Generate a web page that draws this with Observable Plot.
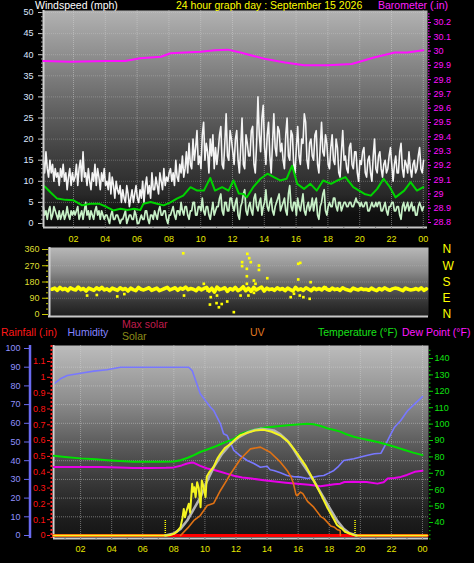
<!DOCTYPE html>
<html><head><meta charset="utf-8">
<script src="https://cdn.jsdelivr.net/npm/d3@7"></script>
<script src="https://cdn.jsdelivr.net/npm/@observablehq/plot@0.6"></script>
<style>
html,body{margin:0;padding:0;background:#000;}
#chart{position:relative;width:474px;height:563px;background:#000;overflow:hidden;font-family:"Liberation Sans",Arial,sans-serif;}
#chart svg{position:absolute;left:0;top:0;background:transparent !important;}
.lbl{position:absolute;white-space:nowrap;font-size:10.5px;line-height:12px;font-family:"Liberation Sans",Arial,sans-serif;}
</style></head>
<body><div id="chart"></div>
<script>
// ---------- tick labels ----------
const hourTicks = [2,4,6,8,10,12,14,16,18,20,22,24];
const hourLabels = ["02","04","06","08","10","12","14","16","18","20","22","00"];
const hourMinor = [1,2,3,4,5,6,7,8,9,10,11,12,13,14,15,16,17,18,19,20,21,22,23,24];
const windTicks = [0,5,10,15,20,25,30,35,40,45,50];
const baroTicks = [28.8,28.9,29.0,29.1,29.2,29.3,29.4,29.5,29.6,29.7,29.8,29.9,30.0,30.1,30.2];
const dirTicks = [0,90,180,270,360];
const dirLabels = ["N","E","S","W","N"];
const humTicks = [0,10,20,30,40,50,60,70,80,90,100];
const rainTicks = [0,0.1,0.2,0.3,0.4,0.5,0.6,0.7,0.8,0.9,1.0,1.1];
const tempTicks = [40,50,60,70,80,90,100,110,120,130,140];

// ---------- wind (5-minute samples, mph) ----------
const windGust = [
 15,12,17,13,11,15,12,14,10,13,11,12,
 9,13,11,14,10,12,8,11,13,9,12,10,
 11,14,9,13,15,10,17,11,12,9,13,10,
 8,12,10,14,9,13,11,8,12,10,13,9,
 10,8,12,7,11,9,6,10,8,7,9,5,
 8,6,5,9,7,4,6,8,5,7,9,6,
 5,8,6,10,5,9,11,7,9,6,12,8,
 8,11,9,7,12,10,8,13,9,11,10,12,
 13,10,12,9,15,11,10,14,12,16,11,13,
 17,12,19,14,13,20,15,18,22,14,16,13,
 21,24,15,19,17,12,20,16,21,13,18,14,
 17,21,23,14,13,19,26,16,15,22,20,17,
 14,20,22,15,12,18,25,14,13,21,19,16,
 16,22,23,14,12,19,30,21,17,25,28,18,
 14,21,24,16,12,19,26,18,16,23,22,17,
 19,15,13,21,25,16,15,22,21,14,12,18,
 23,16,14,20,19,26,24,15,13,19,20,16,
 15,21,22,14,12,18,24,17,16,21,19,14,
 13,18,21,15,14,20,18,12,11,17,22,15,
 16,13,12,18,19,14,13,17,17,12,10,15,
 14,17,18,12,11,15,16,12,10,16,20,13,
 12,16,17,13,11,14,15,12,13,16,18,14,
 10,14,16,12,12,17,19,13,11,15,14,12,
 17,13,11,14,15,12,13,16,18,13,12,15];
const windSpeed = [
 4,2,3,1,3,4,1,2,4,3,2,1,
 3,1,2,3,1,2,4,2,1,3,2,3,
 2,3,4,1,2,3,1,3,5,2,3,1,
 3,2,1,3,4,2,3,1,3,2,1,2,
 2,1,0,2,3,1,1,2,2,1,0,1,
 1,2,3,0,1,2,2,1,1,3,2,0,
 0,1,2,1,1,3,3,1,0,2,2,1,
 3,2,1,3,4,2,2,3,3,1,0,2,
 2,3,4,2,1,3,3,2,5,3,2,4,
 4,2,1,3,3,5,5,2,2,4,4,3,
 6,3,2,4,4,2,1,3,5,2,3,4,
 4,6,7,3,2,5,5,3,3,6,6,4,
 3,5,6,2,1,4,5,7,8,3,2,4,
 5,3,2,6,7,4,3,5,6,2,4,5,
 8,4,3,5,6,3,2,4,5,6,7,3,
 4,5,6,3,2,7,9,4,3,5,5,2,
 6,4,3,5,7,3,2,4,5,3,4,6,
 3,5,6,2,1,4,5,7,8,3,2,4,
 5,4,4,6,6,4,3,5,5,3,4,5,
 5,4,4,5,5,4,4,5,6,5,5,4,
 5,4,4,5,5,3,3,4,5,4,4,5,
 4,5,5,3,3,4,5,3,2,4,4,5,
 5,3,3,4,4,2,1,4,5,3,4,5,
 3,4,5,3,4,2,2,4,5,4,3,4];
const windAvgHours = [0.1,0.24,0.55,0.97,1.5,2.0,2.55,3.07,3.6,4.1,4.5,4.95,5.4,5.8,6.2,6.4,6.85,7.26,7.67,8.1,8.5,8.9,9.36,9.78,10.2,10.6,10.9,11.35,11.75,12.06,12.4,12.7,12.9,13.3,13.76,14.2,14.6,15.0,15.4,15.75,16.07,16.5,16.9,17.3,17.7,18.2,18.6,19.1,19.6,20.3,20.7,21.1,21.5,21.9,22.25,22.8,23.2,23.6,24.0];
const windAvg = [9.0,8.6,7.4,5.9,5.6,5.5,4.3,4.7,4.7,3.9,3.1,3.5,3.2,3.5,3.2,4.7,5.1,4.7,4.3,5.0,5.9,6.6,8.6,7.8,7.8,10.8,7.8,8.6,7.8,10.2,7.1,7.0,6.2,8.6,10.6,11.8,11.0,10.2,10.6,13.7,9.4,8.2,9.4,7.8,10.2,9.4,10.2,11.0,8.6,7.0,6.6,8.2,10.6,8.6,6.2,7.8,9.8,7.8,8.6];

// ---------- barometer (in) ----------
const baroHours = [0.1,1.8,4.1,5.25,6.2,7.5,8.1,9,10,10.9,11.7,12.5,14,15.3,16.5,18,19.5,20.9,22.2,23,24];
const baro = [29.93,29.925,29.93,29.93,29.95,29.96,29.985,29.99,29.995,30.005,30.01,29.99,29.946,29.92,29.90,29.90,29.91,29.955,29.99,29.99,30.005];

// ---------- wind direction (10-minute samples, deg) ----------
const windDir = [
 140,146,134,150,138,144, 132,148,140,136,152,138, 144,130,146,140,134,148, 138,150,136,142,132,146,
 140,134,148,138,144,130, 146,138,132,150,140,136, 142,148,134,140,146,132, 138,144,150,136,142,148,
 134,146,140,152,138,144, 140,132,148,136,144,150, 130,146,124,152,138,142, 148,128,144,136,150,132,
 140,154,132,146,128,150, 136,144,152,130,146,138, 142,134,148,138,144,132, 146,138,130,150,136,142,
 134,148,140,132,146,138, 144,136,150,140,134,146, 138,142,134,148,140,136, 132,146,140,136,144,138,
 140,134,146,138,132,144, 136,148,140,134,142,146, 144,138,132,146,140,136, 138,144,136,148,134,142];
const dirOutHours = [2.33,2.95,4.25,4.7,8.45,8.5,9.76,10.0,10.15,10.2,10.57,10.6,10.72,10.9,11.25,11.67,12.1,12.2,12.2,12.5,12.5,12.5,12.53,12.6,12.65,12.75,12.95,12.95,13.05,13.27,13.27,13.8,15.29,15.5,15.77,15.77,15.87,15.9,16.1,16.5,16.56,17.5];
const dirOut = [105,108,100,113,339,105,170,133,55,96,63,105,40,58,72,13,105,290,268,253,212,170,336,105,312,290,188,120,170,271,247,201,96,115,281,194,105,286,96,87,179,151];

// ---------- humidity (%) ----------
const humHours = [0.26,0.7,1.14,2,2.85,3.7,4.57,5.4,6.5,7.5,8.5,8.96,9.18,9.7,10.36,10.57,11.0,11.2,11.43,11.86,12.3,12.72,13.15,13.57,14.0,14.2,14.43,14.86,15.29,15.7,16.15,16.6,17.0,17.35,17.65,18.0,18.3,18.6,18.93,19.58,20.4,20.9,21.33,21.65,21.97,22.2,22.6,23.05,23.5,24.0];
const humidity = [81,83.8,85.6,86.8,87.9,88.6,90,90,90,90,90,90,88.2,75.8,68.6,66.8,59.7,54.4,53.5,45.5,42.5,40.1,38.5,36.5,37,35.2,34.8,33.5,32.1,31.5,31.2,30.5,31.2,31.8,32.1,33.5,34.8,37,40.1,41,42.8,43.7,44,49,54.4,57.9,61.5,66.8,70.4,74.3];

// ---------- temperature / dew point (°F) ----------
const tempHours = [0.28,1,2,3,3.7,4.5,5.4,6.3,7.14,8,8.43,8.9,9.29,9.7,10.15,10.57,11,11.45,11.86,12.3,12.9,13.57,14.2,14.86,15.5,16.15,16.6,17,17.45,17.86,18.33,18.71,19.1,19.58,20.0,20.5,21.18,21.7,22.2,22.8,23.4,24.0];
const temperature = [80.7,80,79.1,78.5,78,77.5,77,77,77,77.2,78,79.5,81.1,83,84.5,86,87.7,89.5,90.9,94,96,97.5,98.3,98.9,99.4,99.9,100.2,99.9,98.8,97.5,96.4,95.4,93.8,92.3,91.3,90.3,88.9,87.6,86.2,84.4,82.6,81.1];
const dewHours = [0.28,1.5,3.29,4.5,5.4,6.5,7.5,8,8.5,8.86,9.18,9.29,9.7,10.15,10.6,11,11.4,11.86,12.4,13,13.78,14.5,15.2,15.93,16.7,17.43,18.0,18.33,18.71,18.98,19.5,20.4,21.1,21.5,21.76,22.2,22.6,23.0,23.5,24.0];
const dewPoint = [73.9,73.9,73.9,73.5,73.3,73.3,73.4,73.6,74.8,76,76.6,76.4,74.5,72.9,72,70.9,69.8,68.5,67.5,66.8,65.8,65,64.3,63.7,63,62.1,62.8,63.3,63.7,64.7,64.8,64.7,63.7,64.5,66.8,67.2,67.8,69,70.9,71.5];

// ---------- rainfall (in) ----------
const rainHours = [0.26,24.3];
const rainfall = [0,0];

// ---------- solar (W/m2) ----------
const solarHours = [0.26,7.5,7.8,8.0,8.2,8.43,8.55,8.64,8.72,8.82,8.96,9.05,9.18,9.25,9.32,9.4,9.5,9.6,9.72,9.8,9.9,10.04,10.12,10.3,10.57,10.8,11.0,11.3,11.65,12.0,12.3,12.72,13.2,13.78,14.3,14.86,15.4,15.93,16.5,17.0,17.5,17.86,18.2,18.5,18.7,18.8,19.0,19.4,19.6,19.7,24.3];
const solar = [0,0,3,9,20,44,90,140,96,130,167,120,272,230,254,202,280,250,149,289,260,201,310,335,362,405,430,462,482,510,528,540,552,556,546,526,490,432,365,289,210,149,100,55,42,38,20,8,2,0,0];
const maxSolarHours = [7.45,8.0,8.43,8.86,9.29,9.72,10.15,10.57,11.1,11.65,12.2,12.72,13.2,13.57,14.0,14.43,14.86,15.29,15.7,16.15,16.6,17.0,17.45,17.86,18.2,18.5,18.93,19.3,19.58,19.75];
const maxSolar = [0,10,35,79,140,202,289,360,430,482,518,542,555,561,558,553,532,500,455,395,340,289,225,167,120,79,35,12,5,0];
const sunEvents = [7.45,19.66];

// ---------- UV index ----------
const uvHours = [8.43,8.9,9.29,9.7,10.15,10.57,11,11.4,11.65,11.86,12.3,12.93,13.57,14.2,14.86,15.29,15.55,15.7,15.86,15.93,16.15,16.3,16.6,17,17.47,17.65,18.1,18.3,18.54,18.7,18.72];
const uv = [0,0.4,0.79,1.05,1.58,1.7,2.37,2.9,3.25,3.5,4.04,4.56,4.65,4.38,3.86,3.42,3.07,2.72,2.15,2.1,2.28,2.2,1.8,1.49,0.98,0.9,0.5,0.45,0.3,0.26,0];

// ---------- build ----------
const W = 474, H = 563;
const FONT = "'Liberation Sans', Arial, sans-serif";
const baseStyle = {background:"transparent", color:"#cccccc", fontFamily: FONT, fontSize:"9px", overflow:"visible"};
const pts = (xs, ys) => xs.map((x, i) => ({x, y: ys[i]}));
const windTimes = windGust.map((_, i) => 0.1 + i / 12);   // 5-minute sample times
const dirTimes = windDir.map((_, i) => 0.1 + i / 6);      // 10-minute sample times
const fmtHour = d => hourLabels[hourTicks.indexOf(d)];
const blank = () => "";
const chart = document.getElementById("chart");

function grad(svg, id, stops) {
  const lg = d3.select(svg).insert("defs", ":first-child").append("linearGradient")
    .attr("id", id).attr("x1", "0").attr("y1", "0").attr("x2", "0").attr("y2", "1");
  for (const [o, c] of stops) lg.append("stop").attr("offset", o).attr("stop-color", c);
}
function add(svg) { chart.appendChild(svg); return svg; }

const gridStyle = {stroke:"#d8d8d8", strokeOpacity:0.45, strokeDasharray:"1,1"};

// Top panel: wind speed
const topMargins = {marginLeft:43, marginRight:47, marginTop:10, marginBottom:336};
const xTop = {domain:[0,24], range:[41.2,422.8]};
const svgWind = Plot.plot({
  width:W, height:H, ...topMargins, style: baseStyle,
  x: xTop, y: {domain:[0,50], range:[223,12]},
  marks: [
    Plot.frame({fill:"url(#gTop)", stroke:"none"}),
    Plot.ruleY(windTicks.slice(1), {...gridStyle, strokeOpacity:0.3}),
    Plot.ruleX(hourTicks, gridStyle),
    Plot.line(pts(windTimes, windGust), {x:"x", y:"y", stroke:"#f4f4f4", strokeWidth:1.6}),
    Plot.line(pts(windTimes, windSpeed), {x:"x", y:"y", stroke:"#c6f0c6", strokeWidth:1.7}),
    Plot.line(pts(windAvgHours, windAvg), {x:"x", y:"y", stroke:"#00d400", strokeWidth:2}),
    Plot.ruleY([0], {dy:4, stroke:"#c8c8c8", strokeWidth:2}),
    Plot.ruleX([0], {dx:1.8, stroke:"#d0d0d0", strokeWidth:2}),
    Plot.axisY(windTicks, {anchor:"left", tickSize:5, tickPadding:5, stroke:"#c8c8c8", fill:"#dce6ff", label:null}),
    Plot.axisY(d3.range(0, 51), {anchor:"left", tickSize:2, tickFormat: blank, stroke:"#a0a0a0", label:null}),
    Plot.axisX(hourTicks, {anchor:"bottom", tickSize:2, tickPadding:6, tickFormat: fmtHour, stroke:"#888", fill:"#e6e600", label:null}),
    Plot.axisX(hourMinor, {anchor:"bottom", tickSize:2, tickFormat: blank, stroke:"#777", label:null})
  ]
});
grad(svgWind, "gTop", [[0,"#b2b2b2"],[0.45,"#636363"],[0.65,"#424242"],[0.85,"#282828"],[0.93,"#111"],[1,"#0c0c0c"]]);
add(svgWind);

// Top panel: barometer
add(Plot.plot({
  width:W, height:H, ...topMargins, style: baseStyle,
  x: {...xTop, axis:null}, y: {domain:[28.8,30.2], range:[222,22]},
  marks: [
    Plot.line(pts(baroHours, baro), {x:"x", y:"y", stroke:"#ff10ff", strokeWidth:2}),
    Plot.axisY(baroTicks, {anchor:"right", tickSize:3, tickPadding:3, tickFormat: d => String(+d.toFixed(1)), stroke:"#ff00ff", fill:"#ff10ff", label:null}),
    Plot.axisY(d3.range(28.8, 30.27, 0.02), {anchor:"right", tickSize:1.5, tickFormat: blank, stroke:"#ff00ff", label:null})
  ]
}));

// Wind direction panel
const svgDir = Plot.plot({
  width:W, height:H, marginLeft:48, marginRight:46, marginTop:247, marginBottom:247, style: baseStyle,
  x: {domain:[0,24], range:[50,427], axis:null}, y: {domain:[0,360], range:[314,249]},
  marks: [
    Plot.frame({fill:"url(#gDir)", stroke:"none"}),
    Plot.ruleY([90,180,270], {...gridStyle, strokeOpacity:0.25}),
    Plot.line(pts(dirTimes, windDir), {x:"x", y:"y", stroke:"#ffff00", strokeWidth:3.6}),
    Plot.dot(pts(dirOutHours, dirOut), {x:"x", y:"y", r:1.5, symbol:"square", fill:"#ffff00", stroke:"none"}),
    Plot.ruleY([0], {dy:2, stroke:"#c8c8c8", strokeWidth:2}),
    Plot.ruleX([0], {dx:-1, stroke:"#d0d0d0", strokeWidth:2}),
    Plot.axisY(dirTicks, {anchor:"left", tickSize:6, tickPadding:3, stroke:"#c8c800", fill:"#dede30", label:null}),
    Plot.axisY(d3.range(0, 361, 30), {anchor:"left", tickSize:2, tickFormat: blank, stroke:"#c8c800", label:null}),
    Plot.axisY(dirTicks, {anchor:"right", tickSize:0, tickPadding:14, tickFormat: d => dirLabels[dirTicks.indexOf(d)], fill:"#ffff00", fontSize:12, label:null})
  ]
});
grad(svgDir, "gDir", [[0,"#b8b8b8"],[0.35,"#8a8a8a"],[0.6,"#575757"],[0.8,"#343434"],[1,"#1e1e1e"]]);
add(svgDir);

// Bottom panel
const botMargins = {marginLeft:53, marginRight:46, marginTop:345, marginBottom:25};
const xBot = {domain:[0,24], range:[49,422]};
const svgHum = Plot.plot({
  width:W, height:H, ...botMargins, style: baseStyle,
  x: xBot, y: {domain:[0,100], range:[535,348]},
  marks: [
    Plot.frame({fill:"url(#gBot)", stroke:"none"}),
    Plot.ruleY(humTicks.slice(1, 10), gridStyle),
    Plot.ruleX(hourTicks, gridStyle),
    Plot.line(pts(humHours, humidity), {x:"x", y:"y", stroke:"#7878ff", strokeWidth:1.6}),
    Plot.ruleY([0], {dy:3, stroke:"#c8c8c8", strokeWidth:2}),
    Plot.ruleX([0], {dx:4, stroke:"#d0d0d0", strokeWidth:2}),
    Plot.ruleX([0], {dx:-19.5, stroke:"#6a6af0", strokeWidth:2.5}),
    Plot.axisY(humTicks, {anchor:"left", dx:-24, tickSize:5, tickPadding:4, stroke:"#6a6af0", fill:"#9090ff", label:null}),
    Plot.axisX(hourTicks, {anchor:"bottom", tickSize:2, tickPadding:5, tickFormat: fmtHour, stroke:"#888", fill:"#e6e600", label:null}),
    Plot.axisX(hourMinor, {anchor:"bottom", tickSize:2, tickFormat: blank, stroke:"#777", label:null})
  ]
});
grad(svgHum, "gBot", [[0,"#bcbcbc"],[0.28,"#8e8e8e"],[0.49,"#606060"],[0.7,"#3a3a3a"],[0.85,"#222"],[1,"#141414"]]);
add(svgHum);

// Temperature & dew point
add(Plot.plot({
  width:W, height:H, ...botMargins, style: baseStyle,
  x: {...xBot, axis:null}, y: {domain:[40,140], range:[522,358]},
  marks: [
    Plot.line(pts(tempHours, temperature), {x:"x", y:"y", stroke:"#00e000", strokeWidth:2}),
    Plot.line(pts(dewHours, dewPoint), {x:"x", y:"y", stroke:"#e800e8", strokeWidth:2}),
    Plot.axisY(tempTicks, {anchor:"right", tickSize:4, tickPadding:2, stroke:"#00d000", fill:"#10e010", label:null}),
    Plot.axisY(d3.range(30, 146, 2.5), {anchor:"right", tickSize:1.5, tickFormat: blank, stroke:"#00d000", label:null})
  ]
}));

// Rainfall
add(Plot.plot({
  width:W, height:H, ...botMargins, style: baseStyle,
  x: {...xBot, axis:null}, y: {domain:[0,1.1], range:[535,361]},
  marks: [
    Plot.ruleX([0], {dx:2, stroke:"#ff2020", strokeWidth:2, strokeDasharray:"2,2"}),
    Plot.line(pts(rainHours, rainfall), {x:"x", y:"y", stroke:"#ff0000", strokeWidth:3}),
    Plot.axisY(rainTicks, {anchor:"left", dx:-3, tickSize:3, tickPadding:2, tickFormat: d => String(+d.toFixed(1)), stroke:"#ff2020", fill:"#ff1010", label:null})
  ]
}));

// UV
add(Plot.plot({
  width:W, height:H, ...botMargins, style: baseStyle,
  x: {...xBot, axis:null}, y: {domain:[0,10], range:[535,345], axis:null},
  marks: [
    Plot.line(pts(uvHours, uv), {x:"x", y:"y", stroke:"#e07214", strokeWidth:1.6})
  ]
}));

// Solar
add(Plot.plot({
  width:W, height:H, ...botMargins, style: baseStyle,
  x: {...xBot, axis:null}, y: {domain:[0,1000], range:[535,345], axis:null},
  marks: [
    Plot.ruleX(sunEvents, {y1:0, y2:84, stroke:"#ffff00", strokeWidth:1.5, strokeDasharray:"1,1"}),
    Plot.line(pts(maxSolarHours, maxSolar), {x:"x", y:"y", stroke:"#b4b4b4", strokeWidth:2.6}),
    Plot.line(pts(solarHours, solar), {x:"x", y:"y", stroke:"#f4f420", strokeWidth:2})
  ]
}));

// ---------- titles & legend ----------
const labels = [
  ["Windspeed (mph)", 35, -1.5, "#ffffff"],
  ["24 hour graph day : September 15 2026", 176, -1.5, "#ffff00"],
  ["Barometer (.in)", 378, -1.5, "#ff20ff"],
  ["Rainfall (.in)", 1, 325.5, "#ff1818"],
  ["Humidity", 67.5, 325.5, "#8484ff"],
  ["Max solar", 122, 317.5, "#c01c4c"],
  ["Solar", 122, 329.5, "#8c8c18"],
  ["UV", 250, 325.5, "#e07a20"],
  ["Temperature (°F)", 318, 325.5, "#18e018"],
  ["Dew Point (°F)", 402, 325.5, "#ff18ff"]
];
for (const [t, x, y, c] of labels) {
  const s = document.createElement("div");
  s.className = "lbl"; s.textContent = t;
  s.style.left = x + "px"; s.style.top = y + "px"; s.style.color = c;
  chart.appendChild(s);
}
</script></body></html>
